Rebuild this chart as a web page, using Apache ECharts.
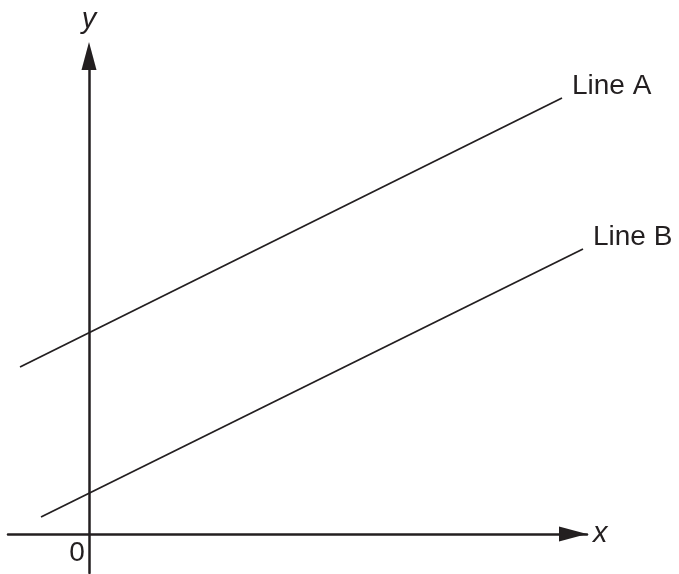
<!DOCTYPE html>
<html>
<head>
<meta charset="utf-8">
<script src="https://cdn.jsdelivr.net/npm/echarts@6/dist/echarts.min.js"></script>
<style>
  html, body { margin: 0; padding: 0; background: #fff; }
  #chart { width: 679px; height: 574px; }
</style>
</head>
<body>
<div id="chart"></div>
<script>
// data (arbitrary units, origin at 0,0)
const lineNames = ['Line A', 'Line B']
const lineA = [[-6.9, 16.7], [47.3, 43.6]]
const lineB = [[-4.8, 1.7], [49.4, 28.5]]
const xRange = [-8.1, 49.8]
const yRange = [-3.9, 47.8]
const axisNames = ['x', 'y']
const origin = [[0, 0]]
const originLabel = '0'

const ink = '#231f20'
const font = 'Liberation Sans'

const chart = echarts.init(document.getElementById('chart'))

// shared axis look: plain line with a solid triangle at the end
function axisLook(arrowShift) {
  return {
    axisLine: {
      onZero: true,
      symbol: ['none', 'triangle'],
      symbolSize: [15, 28],
      symbolOffset: [0, arrowShift],
      lineStyle: { color: ink, width: 2.5 }
    },
    axisTick: { show: false },
    axisLabel: { show: false },
    splitLine: { show: false },
    nameLocation: 'end',
    nameTextStyle: { fontFamily: font, fontSize: 29, fontStyle: 'italic', color: ink }
  }
}

function lineSeries(name, data) {
  return {
    name: name,
    type: 'line',
    data: data,
    showSymbol: false,
    symbol: 'none',
    clip: false,
    silent: true,
    lineStyle: { color: ink, width: 1.8 },
    endLabel: {
      show: true,
      formatter: '{a}',
      fontFamily: font,
      fontSize: 28,
      color: ink,
      distance: 10,
      offset: [0, -12]
    }
  }
}

chart.setOption({
  animation: false,
  backgroundColor: '#fff',
  // grid placed by hand, labels are allowed to sit outside it
  grid: { left: 8, right: 92, top: 56, bottom: 1, containLabel: false, outerBoundsMode: 'none' },
  xAxis: Object.assign(axisLook(-14), {
    type: 'value',
    min: xRange[0],
    max: xRange[1],
    name: axisNames[0],
    nameGap: 6
  }),
  yAxis: Object.assign(axisLook(0), {
    type: 'value',
    min: yRange[0],
    max: yRange[1],
    name: axisNames[1],
    nameGap: 22
  }),
  series: [
    lineSeries(lineNames[0], lineA),
    lineSeries(lineNames[1], lineB),
    {
      // the "0" under the origin
      type: 'scatter',
      data: origin,
      symbolSize: 0,
      silent: true,
      itemStyle: { color: ink, opacity: 1 },
      label: {
        show: true,
        formatter: originLabel,
        position: 'bottom',
        distance: 5,
        offset: [-12, 0],
        fontFamily: font,
        fontSize: 28,
        color: ink,
        opacity: 1
      }
    }
  ]
})

window.onresize = function () {
  chart.resize()
}
</script>
</body>
</html>
